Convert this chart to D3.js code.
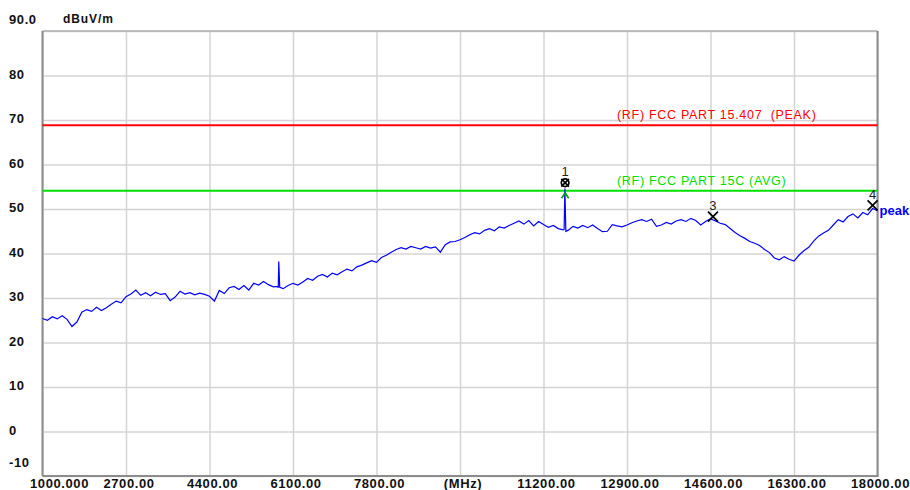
<!DOCTYPE html>
<html>
<head>
<meta charset="utf-8">
<script src="https://cdn.jsdelivr.net/npm/d3@7"></script>
<style>
  body { margin: 0; background: #fff; }
  svg { display: block; font-family: "Liberation Sans", Arial, sans-serif; }
</style>
</head>
<body>
<svg id="chart"></svg>
<script>
// sweep: 1000 .. 18000 MHz, one reading every 100 MHz (dBuV/m)
var sweepStart = 1000;
var sweepStep = 100;
var levels = [
  25.4, 25.0, 25.8, 25.3, 26.0, 25.2, 23.6, 24.6, 26.8, 27.4,
  27.0, 27.9, 27.2, 27.8, 28.6, 29.3, 28.9, 30.3, 30.9, 31.8,
  30.6, 31.2, 30.5, 31.3, 30.8, 31.0, 29.4, 30.2, 31.5, 30.9,
  31.2, 30.7, 31.1, 30.8, 30.4, 29.3, 31.7, 31.0, 32.3, 32.6,
  31.9, 32.8, 31.8, 33.3, 32.9, 33.7, 33.0, 32.5, 32.3, 32.1,
  32.8, 33.3, 32.9, 33.6, 34.4, 34.0, 34.9, 35.3, 34.7, 35.6,
  35.2, 35.9, 36.5, 36.1, 37.0, 37.4, 37.9, 38.4, 38.0, 39.1,
  39.6, 40.3, 40.9, 41.3, 41.0, 41.6, 41.3, 41.0, 41.6, 41.2,
  41.5, 40.3, 42.0, 42.6, 42.7, 43.1, 43.6, 44.2, 44.7, 44.4,
  45.2, 45.6, 45.1, 46.0, 45.7, 46.3, 46.8, 47.3, 46.6, 47.4,
  46.2, 47.2, 46.5, 45.9, 46.3, 45.6, 45.3, 45.2, 46.1, 45.7,
  46.3, 45.8, 46.4, 45.6, 44.9, 45.0, 46.5, 46.2, 46.0, 46.4,
  46.9, 47.3, 47.6, 47.2, 47.7, 46.1, 46.4, 47.0, 46.6, 47.3,
  47.6, 47.2, 47.9, 47.4, 46.4, 47.2, 47.8, 47.3, 46.8, 46.5,
  45.6, 44.7, 44.0, 43.4, 42.7, 42.3, 41.8, 40.9, 40.2, 39.0,
  38.6, 39.3, 38.7, 38.3, 39.6, 40.6, 41.4, 42.8, 43.9, 44.6,
  45.2, 46.4, 47.6, 47.1, 48.3, 48.9, 48.0, 49.2, 48.7, 50.1,
  49.6
];
// narrow spikes between sweep points
var spikeFreqs  = [5790, 5810, 5830, 11620, 11635, 11655];
var spikeLevels = [32.6, 38.2, 32.4, 45.4, 54.6, 45.0];

// limit lines
var limitNames  = ["(RF) FCC PART 15.407  (PEAK)", "(RF) FCC PART 15C (AVG)"];
var limitLevels = [68.8, 54.1];
var limitColors = ["#ff0000", "#00e000"];

// markers
var markerIds    = ["1", "3", "4"];
var markerFreqs  = [11640, 14650, 17900];
var markerLevels = [55.9, 48.3, 50.8];

var xTicks = [1000, 2700, 4400, 6100, 7800, 9500, 11200, 12900, 14600, 16300, 18000];
var xTickLabels = ["1000.000", "2700.00", "4400.00", "6100.00", "7800.00", "(MHz)",
                   "11200.00", "12900.00", "14600.00", "16300.00", "18000.00"];
var yTicks = [-10, 0, 10, 20, 30, 40, 50, 60, 70, 80, 90];
var yTickLabels = ["-10", "0", "10", "20", "30", "40", "50", "60", "70", "80", "90.0"];

var width = 910, height = 490;
var plotL = 42.5, plotR = 877.5, plotT = 31, plotB = 476;

var svg = d3.select("#chart").attr("width", width).attr("height", height);

var x = d3.scaleLinear().domain([1000, 18000]).range([plotL, plotR]);
var y = d3.scaleLinear().domain([-10, 90]).range([plotB, plotT]);

// build trace
var trace = levels.map(function(v, i){ return {f: sweepStart + i * sweepStep, v: v}; });
spikeFreqs.forEach(function(f, i){ trace.push({f: f, v: spikeLevels[i]}); });
trace.sort(function(a, b){ return a.f - b.f; });

// grid
var grid = svg.append("g");
grid.append("g")
  .attr("transform", "translate(0," + plotB + ")")
  .call(d3.axisBottom(x).tickValues(xTicks).tickSize(-(plotB - plotT)).tickFormat(""))
  .call(function(g){ g.select(".domain").remove(); });
grid.append("g")
  .attr("transform", "translate(" + plotL + ",0)")
  .call(d3.axisLeft(y).tickValues(yTicks).tickSize(-(plotR - plotL)).tickFormat(""))
  .call(function(g){ g.select(".domain").remove(); });
grid.selectAll(".tick line").attr("stroke", "#d4d4d4").attr("stroke-width", 1.5);

// frame
svg.append("line").attr("x1", plotL).attr("x2", plotR).attr("y1", plotT).attr("y2", plotT)
  .attr("stroke", "#b0b0b0").attr("stroke-width", 1.5);
svg.append("line").attr("x1", plotL).attr("x2", plotL).attr("y1", plotT).attr("y2", plotB)
  .attr("stroke", "#8c8c8c").attr("stroke-width", 2);
svg.append("line").attr("x1", plotR).attr("x2", plotR).attr("y1", plotT).attr("y2", plotB + 1)
  .attr("stroke", "#8c8c8c").attr("stroke-width", 2);
svg.append("line").attr("x1", plotL).attr("x2", plotR + 1).attr("y1", plotB).attr("y2", plotB)
  .attr("stroke", "#8c8c8c").attr("stroke-width", 2);

// limit lines
limitLevels.forEach(function(l, i){
  svg.append("line")
    .attr("x1", plotL).attr("x2", plotR)
    .attr("y1", y(l)).attr("y2", y(l))
    .attr("stroke", limitColors[i]).attr("stroke-width", 2);
  svg.append("text")
    .attr("x", 617).attr("y", y(l) - 6)
    .attr("fill", limitColors[i])
    .attr("font-size", 12.5).attr("letter-spacing", 0.7)
    .style("white-space", "pre")
    .text(limitNames[i]);
});

// trace
var line = d3.line()
  .x(function(d){ return x(d.f); })
  .y(function(d){ return y(d.v); });

svg.append("path")
  .attr("d", line(trace))
  .attr("fill", "none")
  .attr("stroke", "#0000ff")
  .attr("stroke-width", 1.2);

svg.append("text")
  .attr("x", plotR + 2).attr("y", y(trace[trace.length - 1].v) + 4)
  .attr("fill", "#0000ff").attr("font-size", 13).attr("font-weight", "bold")
  .text("peak");

// markers
markerIds.forEach(function(id, i){
  var mx = x(markerFreqs[i]), my = y(markerLevels[i]);
  var s = 5;
  var g = svg.append("g").attr("stroke", "#000").attr("stroke-width", 1.7);
  if (id === "1") {
    g.append("circle").attr("cx", mx).attr("cy", my).attr("r", 3.8).attr("fill", "none");
    s = 3.8;
  }
  g.append("line").attr("x1", mx - s).attr("x2", mx + s).attr("y1", my - s).attr("y2", my + s);
  g.append("line").attr("x1", mx - s).attr("x2", mx + s).attr("y1", my + s).attr("y2", my - s);
  svg.append("text")
    .attr("x", mx).attr("y", my - 6.5)
    .attr("text-anchor", "middle")
    .attr("font-size", 13).attr("fill", "#222")
    .text(id);
});
// small green tick of the avg detector at the spike
var gx = x(markerFreqs[0]), gy = y(53.2);
svg.append("path")
  .attr("d", "M" + (gx - 3.5) + "," + (gy + 3.5) + "L" + gx + "," + (gy - 2) + "L" + (gx + 3.5) + "," + (gy + 3.5))
  .attr("fill", "none").attr("stroke", "#00a000").attr("stroke-width", 1.5);

// axis labels
svg.selectAll(".xlab").data(xTicks).enter().append("text")
  .attr("class", "xlab")
  .attr("x", function(d, i){ return i === 0 ? 30 : x(d) + 3; })
  .attr("y", 488)
  .attr("text-anchor", function(d, i){ return i === 0 ? "start" : "middle"; })
  .attr("font-size", 13).attr("font-weight", "bold").attr("letter-spacing", 0.6)
  .attr("fill", "#111")
  .text(function(d, i){ return xTickLabels[i]; });

svg.selectAll(".ylab").data(yTicks).enter().append("text")
  .attr("class", "ylab")
  .attr("x", 9)
  .attr("y", function(d){
    if (d === 90) return 24;
    if (d === -10) return 467;
    return y(d) + 3;
  })
  .attr("font-size", 13).attr("font-weight", "bold").attr("letter-spacing", 0.6)
  .attr("fill", "#111")
  .text(function(d, i){ return yTickLabels[i]; });

svg.append("text")
  .attr("x", 63).attr("y", 23)
  .attr("font-size", 12).attr("font-weight", "bold").attr("letter-spacing", 0.9)
  .attr("fill", "#111")
  .text("dBuV/m");
</script>
</body>
</html>
